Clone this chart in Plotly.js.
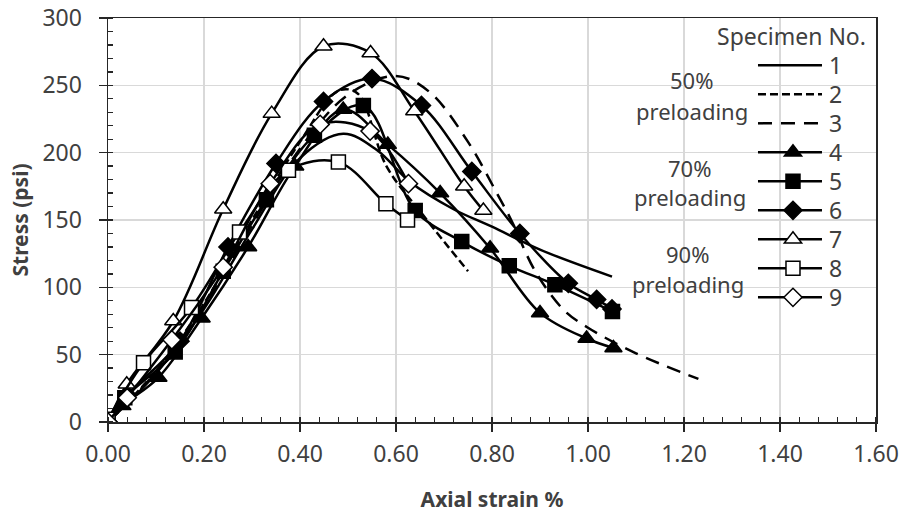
<!DOCTYPE html>
<html>
<head>
<meta charset="utf-8">
<script src="https://cdn.plot.ly/plotly-3.0.1.min.js"></script>
<style>
html,body{margin:0;padding:0;background:#fff;}
#chart{width:904px;height:513px;}
</style>
</head>
<body>
<div id="chart"></div>
<script>
// ---- data (axial strain %, stress psi) ----
const names = ["1","2","3","4","5","6","7","8","9"];

const s1x = [0, 0.10, 0.20, 0.30, 0.40, 0.49, 0.56, 0.63, 0.72, 0.80, 0.90, 1.05];
const s1y = [0, 36, 84, 143, 196, 214, 202, 178, 158, 145, 128, 108];

const s2x = [0, 0.10, 0.20, 0.30, 0.40, 0.48, 0.52, 0.58, 0.66, 0.75];
const s2y = [0, 38, 88, 150, 208, 246, 244, 190, 152, 112];

const s3x = [0, 0.10, 0.20, 0.30, 0.40, 0.50, 0.60, 0.67, 0.75, 0.81, 0.84, 0.89, 0.95, 1.00, 1.10, 1.23];
const s3y = [0, 37, 86, 146, 203, 243, 257, 245, 208, 170, 150, 112, 83, 70, 51, 32];

const s4x = [0, 0.03, 0.105, 0.195, 0.292, 0.39, 0.49, 0.583, 0.692, 0.796, 0.90, 0.997, 1.053];
const s4y = [0, 12, 33, 77, 130, 190, 232, 206, 170, 129, 81, 62, 55];

const s5x = [0, 0.035, 0.14, 0.24, 0.33, 0.43, 0.532, 0.64, 0.737, 0.836, 0.931, 1.051];
const s5y = [0, 18, 52, 112, 165, 213, 235, 157, 134, 116, 102, 82];

const s6x = [0, 0.04, 0.15, 0.25, 0.35, 0.449, 0.55, 0.653, 0.758, 0.858, 0.959, 1.018, 1.05];
const s6y = [0, 20, 60, 130, 192, 238, 255, 235, 186, 140, 103, 91, 84];

const s7x = [0, 0.039, 0.136, 0.24, 0.341, 0.449, 0.547, 0.638, 0.742, 0.782];
const s7y = [0, 28, 75, 158, 229, 279, 274, 231, 175, 157];

const s8x = [0, 0.074, 0.174, 0.274, 0.376, 0.48, 0.579, 0.624];
const s8y = [2, 44, 85, 141, 187, 193, 162, 150];

const s9x = [0, 0.04, 0.133, 0.24, 0.338, 0.442, 0.546, 0.626];
const s9y = [0, 18, 61, 115, 177, 221, 216, 177];

const xTickVals = [0, 0.2, 0.4, 0.6, 0.8, 1.0, 1.2, 1.4, 1.6];
const xTickText = ["0.00","0.20","0.40","0.60","0.80","1.00","1.20","1.40","1.60"];
const yTickVals = [0, 50, 100, 150, 200, 250, 300];
const yTickText = ["0","50","100","150","200","250","300"];

const xTitle = "Axial strain %";
const yTitle = "Stress (psi)";
const legendTitle = "Specimen No.";
const groupPct = ["50%", "70%", "90%"];
const groupWord = "preloading";

// ---- styling ----
const FONT = "Noto Sans, Open Sans, sans-serif";
const TXT = "#404040";
const LW = 2.5;

function tr(x, y, name, dash, symbol, fill) {
  const t = {
    x: x, y: y, name: name, type: "scatter",
    mode: symbol ? "lines+markers" : "lines",
    line: {color: "#000", width: LW, dash: dash || "solid", shape: "spline", smoothing: 1},
    hoverinfo: "skip"
  };
  if (symbol) {
    t.marker = {symbol: symbol, size: symbol.indexOf("triangle") === 0 ? 15 : 14,
                color: fill, line: {color: "#000", width: 1.5}};
  }
  return t;
}

const data = [
  tr(s1x, s1y, names[0], "solid"),
  tr(s2x, s2y, names[1], "8px,4px"),
  tr(s3x, s3y, names[2], "14px,9px"),
  tr(s4x, s4y, names[3], "solid", "triangle-up", "#000"),
  tr(s5x, s5y, names[4], "solid", "square", "#000"),
  tr(s6x, s6y, names[5], "solid", "diamond", "#000"),
  tr(s7x, s7y, names[6], "solid", "triangle-up", "#fff"),
  tr(s8x, s8y, names[7], "solid", "square", "#fff"),
  tr(s9x, s9y, names[8], "solid", "diamond", "#fff")
];

const axisCommon = {
  showline: true, linecolor: "#262626", linewidth: 1.5, mirror: true,
  showgrid: true, gridcolor: "#d9d9d9", gridwidth: 1.3,
  zeroline: false,
  ticks: "outside", ticklen: 8, tickwidth: 1.5, tickcolor: "#262626",
  tickfont: {family: FONT, size: 23, color: TXT}
};

function note(text, x, y) {
  return {xref: "paper", yref: "paper", x: x, y: y, xanchor: "center", yanchor: "middle",
          text: text, showarrow: false, font: {family: FONT, size: 22, color: TXT}};
}

const layout = {
  width: 904, height: 513,
  margin: {l: 108, r: 28, t: 18, b: 91, autoexpand: false},
  paper_bgcolor: "#fff", plot_bgcolor: "#fff",
  font: {family: FONT, color: TXT},
  showlegend: true,
  legend: {
    xref: "paper", yref: "paper",
    x: 0.8867, y: 0.936, xanchor: "left", yanchor: "top",
    font: {family: FONT, size: 23, color: TXT},
    bgcolor: "rgba(0,0,0,0)", borderwidth: 0,
    tracegroupgap: 0, itemclick: false, maxheight: 1
  },
  xaxis: Object.assign({}, axisCommon, {
    range: [0, 1.6], tickmode: "array", tickvals: xTickVals, ticktext: xTickText,
    ticklabelstandoff: 3,
    minor: {dtick: 0.04, ticks: "inside", ticklen: 5, tickwidth: 1.3, tickcolor: "#262626", showgrid: false},
    title: {text: "<b>" + xTitle + "</b>", font: {family: FONT, size: 21, color: TXT}, standoff: 25}
  }),
  yaxis: Object.assign({}, axisCommon, {
    range: [0, 300], tickmode: "array", tickvals: yTickVals, ticktext: yTickText,
    ticklabelstandoff: 12,
    minor: {dtick: 10, ticks: "inside", ticklen: 5, tickwidth: 1.3, tickcolor: "#262626", showgrid: false},
    title: {text: "<b>" + yTitle + "</b>", font: {family: FONT, size: 21, color: TXT}, standoff: 8}
  }),
  annotations: [
    {xref: "paper", yref: "paper", x: 0.990, y: 0.955, xanchor: "right", yanchor: "middle",
     text: legendTitle, showarrow: false, font: {family: FONT, size: 23, color: TXT}},
    note(groupPct[0], 0.7604, 0.846),
    note(groupWord,   0.7604, 0.770),
    note(groupPct[1], 0.7578, 0.628),
    note(groupWord,   0.7578, 0.557),
    note(groupPct[2], 0.7540, 0.415),
    note(groupWord,   0.7550, 0.342)
  ]
};

Plotly.newPlot("chart", data, layout, {staticPlot: true, displayModeBar: false}).then(function (gd) {
  // make the legend key look like the reference: longer line samples, tighter rows
  gd.querySelectorAll(".legend [clip-path]").forEach(function (e) { e.removeAttribute("clip-path"); });
  const items = gd.querySelectorAll(".legend .traces");
  let y0 = null, x0 = 0;
  items.forEach(function (t, i) {
    const m = /translate\(\s*([-\d.]+)[ ,]+([-\d.]+)\s*\)/.exec(t.getAttribute("transform") || "");
    if (m) {
      if (y0 === null) { x0 = parseFloat(m[1]); y0 = parseFloat(m[2]); }
      t.setAttribute("transform", "translate(" + x0 + "," + (y0 + i * 29) + ")");
    }
    t.querySelectorAll(".legendlines path").forEach(function (p) { p.setAttribute("d", "M-31,0h64"); });
    t.querySelectorAll(".legendpoints path").forEach(function (p) { p.setAttribute("transform", "translate(4,0)"); });
  });
});
</script>
</body>
</html>
